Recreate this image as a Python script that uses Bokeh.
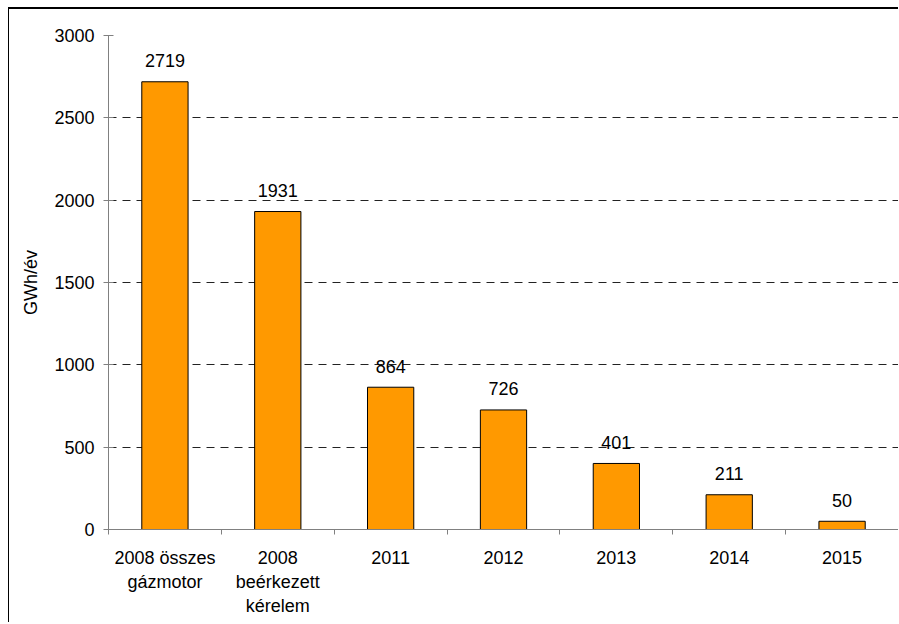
from bokeh.plotting import figure
from bokeh.models import Range1d, FixedTicker, SingleIntervalTicker, ColumnDataSource
from bokeh.core.properties import value
from bokeh.embed import file_html
from bokeh.resources import INLINE

categories = ["2008 összes\ngázmotor", "2008\nbeérkezett\nkérelem", "2011", "2012", "2013", "2014", "2015"]
values = [2719, 1931, 864, 726, 401, 211, 50]
y_label = "GWh/év"

FONT = "Liberation Sans"
n = len(categories)
xs = [i + 0.5 for i in range(n)]

src = ColumnDataSource(dict(x=xs, top=values, lab=[str(v) for v in values]))

p = figure(width=890, height=615, output_backend="svg", toolbar_location=None,
           x_range=Range1d(0, n), y_range=Range1d(0, 3000))
p.styles = {"margin-left": "8px", "margin-top": "7px",
            "border-left": "1px solid black", "border-top": "2px solid black"}
p.min_border_left = 99
p.min_border_right = 1
p.min_border_top = 26
p.min_border_bottom = 95
p.outline_line_color = None
p.background_fill_color = "white"
p.border_fill_color = "white"

p.vbar(x="x", top="top", width=0.41, bottom=0, source=src,
       fill_color="#FF9900", line_color="black", line_width=1)
p.text(x="x", y="top", text="lab", source=src, text_align="center",
       text_baseline="alphabetic", y_offset=-21,
       text_font=value(FONT), text_font_size="18px", text_color="black")

# x axis
xa = p.xaxis[0]
xa.ticker = FixedTicker(ticks=xs, minor_ticks=list(range(n + 1)))
xa.major_label_overrides = {x: c for x, c in zip(xs, categories)}
xa.major_tick_line_color = None
xa.minor_tick_in = 0
xa.minor_tick_out = 5
xa.minor_tick_line_color = "#808080"
xa.axis_line_color = "#808080"
xa.major_label_text_font = FONT
xa.major_label_text_font_size = "18px"
xa.major_label_text_color = "black"
xa.major_label_standoff = 12

# y axis
ya = p.yaxis[0]
ya.ticker = SingleIntervalTicker(interval=500)
ya.minor_tick_line_color = None
ya.major_tick_in = 5
ya.major_tick_out = 5
ya.major_tick_line_color = "#808080"
ya.axis_line_color = "#808080"
ya.major_label_text_font = FONT
ya.major_label_text_font_size = "18px"
ya.major_label_text_color = "black"
ya.major_label_standoff = 9
ya.axis_label = y_label
ya.axis_label_text_font = FONT
ya.axis_label_text_font_size = "18px"
ya.axis_label_text_font_style = "normal"
ya.axis_label_text_color = "black"
ya.axis_label_standoff = 10

p.xgrid.grid_line_color = None
p.ygrid.ticker = SingleIntervalTicker(interval=500)
p.ygrid.grid_line_color = "#222222"
p.ygrid.grid_line_dash = "8 6"
p.ygrid.grid_line_width = 1

open("out.html", "w").write(file_html(p, INLINE))
